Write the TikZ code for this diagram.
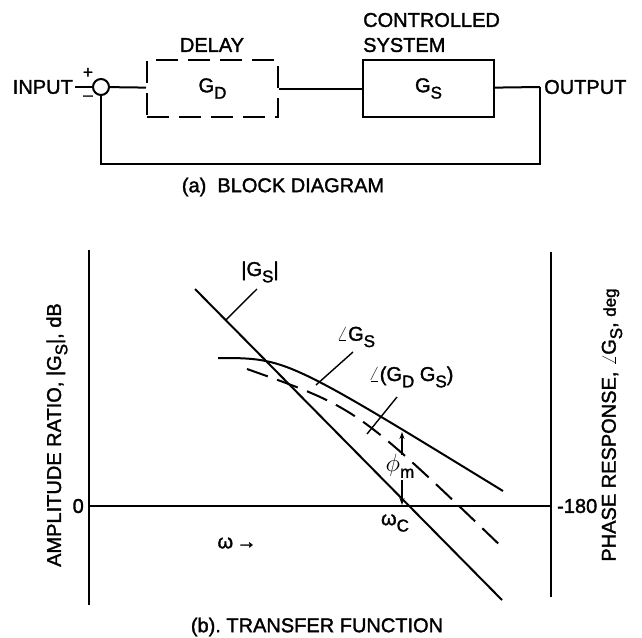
\documentclass[tikz,border=0pt]{standalone}
\usepackage{fontspec}
\setmainfont{Liberation Sans}[FakeBold=1.6]
\usetikzlibrary{arrows.meta}
\usetikzlibrary{calc}
\newcommand{\lowidx}[1]{\raisebox{-0.6ex}{\fontsize{17}{17}\selectfont #1}}

\begin{document}
\begin{tikzpicture}[%
  x=1pt,y=-1pt,%
  font=\fontsize{20}{25}\selectfont,%
  lineStyle/.style={-,line width=2pt},%
  axisStyle/.style={-,line width=2.4pt},%
  leaderStyle/.style={-,line width=1.4pt},%
  gapStyle/.style={dash pattern=on 22pt off 10pt},%
  blockStyle/.style={draw,line width=2pt,minimum width=131pt,minimum height=57pt,inner sep=0pt},%
  textStyle/.style={inner sep=0pt},%
  marginArrow/.style={-{Stealth[length=7pt,width=5pt]},line width=1.3pt}%
]
\useasboundingbox (0,0) rectangle (642,637);
%
%
% (a) The block diagram.
\pgfmathsetmacro{\ysig}{87}    % Height of the signal line.
\pgfmathsetmacro{\yback}{164}  % Height of the feedback line.
\node[textStyle,anchor=east] (input) at (73,\ysig) {INPUT};
\node[draw,circle,line width=2pt,minimum size=16pt,inner sep=0pt] (sum) at (101,\ysig) {};
\node[textStyle,font=\fontsize{17}{17}\selectfont] (plus) at (88,73) {+};
\node[textStyle,font=\fontsize{17}{17}\selectfont] (minus) at (88,98) {–};
\node[blockStyle,gapStyle] (delay) at (212.5,88.5) {G\lowidx{D}};
\node[blockStyle] (plant) at (428.5,88.5) {G\lowidx{S}};
\node[textStyle] (delayText) at (212,45) {DELAY};
\node[textStyle,align=left,anchor=west] (plantText) at (363,32.5) {CONTROLLED\\SYSTEM};
\coordinate (junction) at (540,\ysig);
\node[textStyle,anchor=west] (output) at (544,\ysig) {OUTPUT};
\coordinate (backRight) at (540,\yback);
\coordinate (backLeft) at (101,\yback);
\draw[lineStyle,shorten <=2pt] (input) -- (sum);
\draw[lineStyle] (sum) -- (delay);
\draw[lineStyle] (delay) -- (plant);
\draw[lineStyle] (plant) -- (junction);
\draw[lineStyle] (junction) -- (backRight) -- (backLeft) -- (sum);
\node[textStyle] (captionA) at (283,187) {(a)\ \ BLOCK DIAGRAM};
%
%
% (b) The transfer function.
\coordinate (leftTop) at (89,250);
\coordinate (leftBottom) at (89,605);
\coordinate (rightTop) at (551,252);
\coordinate (rightBottom) at (551,597);
\coordinate (zeroLeft) at (89,506);
\coordinate (zeroRight) at (551,506);
\draw[axisStyle] (leftTop) -- (leftBottom);
\draw[axisStyle] (rightTop) -- (rightBottom);
\draw[axisStyle] (zeroLeft) -- (zeroRight);
\node[textStyle,anchor=east] (zeroText) at (84,506) {0};
\node[textStyle,anchor=west] (phaseText) at (557,506) {-180};
\node[textStyle,rotate=90] (ampAxis) at (57,435) {AMPLITUDE RATIO, |G\lowidx{S}|, dB};
\node[textStyle,rotate=90] (phaseAxis) at (612,425) {PHASE RESPONSE, $\angle$G\lowidx{S}, {\fontsize{17}{17}\selectfont deg}};
%
% The amplitude ratio and the two phase curves.
\coordinate (magStart) at (195,289);
\coordinate (magEnd) at (502,600);
\coordinate (phaseStart) at (218,358);
\coordinate (phaseEnd) at (503,491);
\coordinate (delayStart) at (247,369);
\coordinate (delayEnd) at (505,550);
\draw[lineStyle] (magStart) -- (magEnd);
\draw[lineStyle] (phaseStart) .. controls (286,358) .. (phaseEnd);
\draw[lineStyle,gapStyle] (delayStart) .. controls (357,408) .. (delayEnd);
%
% Labels with their leaders.
\node[textStyle] (magText) at (260,272) {|G\lowidx{S}|};
\node[textStyle] (phaseCurveText) at (356,337) {$\angle$G\lowidx{S}};
\node[textStyle] (delayCurveText) at (411,377) {$\angle$(G\lowidx{D} G\lowidx{S})};
\coordinate (magTick) at ($(magStart)!0.1!(magEnd)$);
\coordinate (magLead) at (257,289);
\coordinate (phaseTick) at (316,385);
\coordinate (phaseLead) at (353,352);
\coordinate (delayTick) at (367,434);
\coordinate (delayLead) at (397,397);
\draw[leaderStyle] (magTick) -- (magLead);
\draw[leaderStyle] (phaseTick) -- (phaseLead);
\draw[leaderStyle] (delayTick) -- (delayLead);
%
% The phase margin.
\coordinate (marginUpFrom) at (402,455);
\coordinate (marginUpTo) at (402,432);
\coordinate (marginDownFrom) at (402,480);
\coordinate (marginDownTo) at (402,505);
\draw[marginArrow] (marginUpFrom) -- (marginUpTo);
\draw[marginArrow] (marginDownFrom) -- (marginDownTo);
\node[textStyle] (marginText) at (400,466) {{\fontsize{23}{23}\selectfont$\phi$}\lowidx{m}};
\node[textStyle] (crossText) at (395,523) {ω\lowidx{C}};
\node[textStyle] (freqText) at (237,543) {ω\,→};
\node[textStyle] (captionB) at (317,627) {(b).\ TRANSFER FUNCTION};
\end{tikzpicture}
\end{document}
